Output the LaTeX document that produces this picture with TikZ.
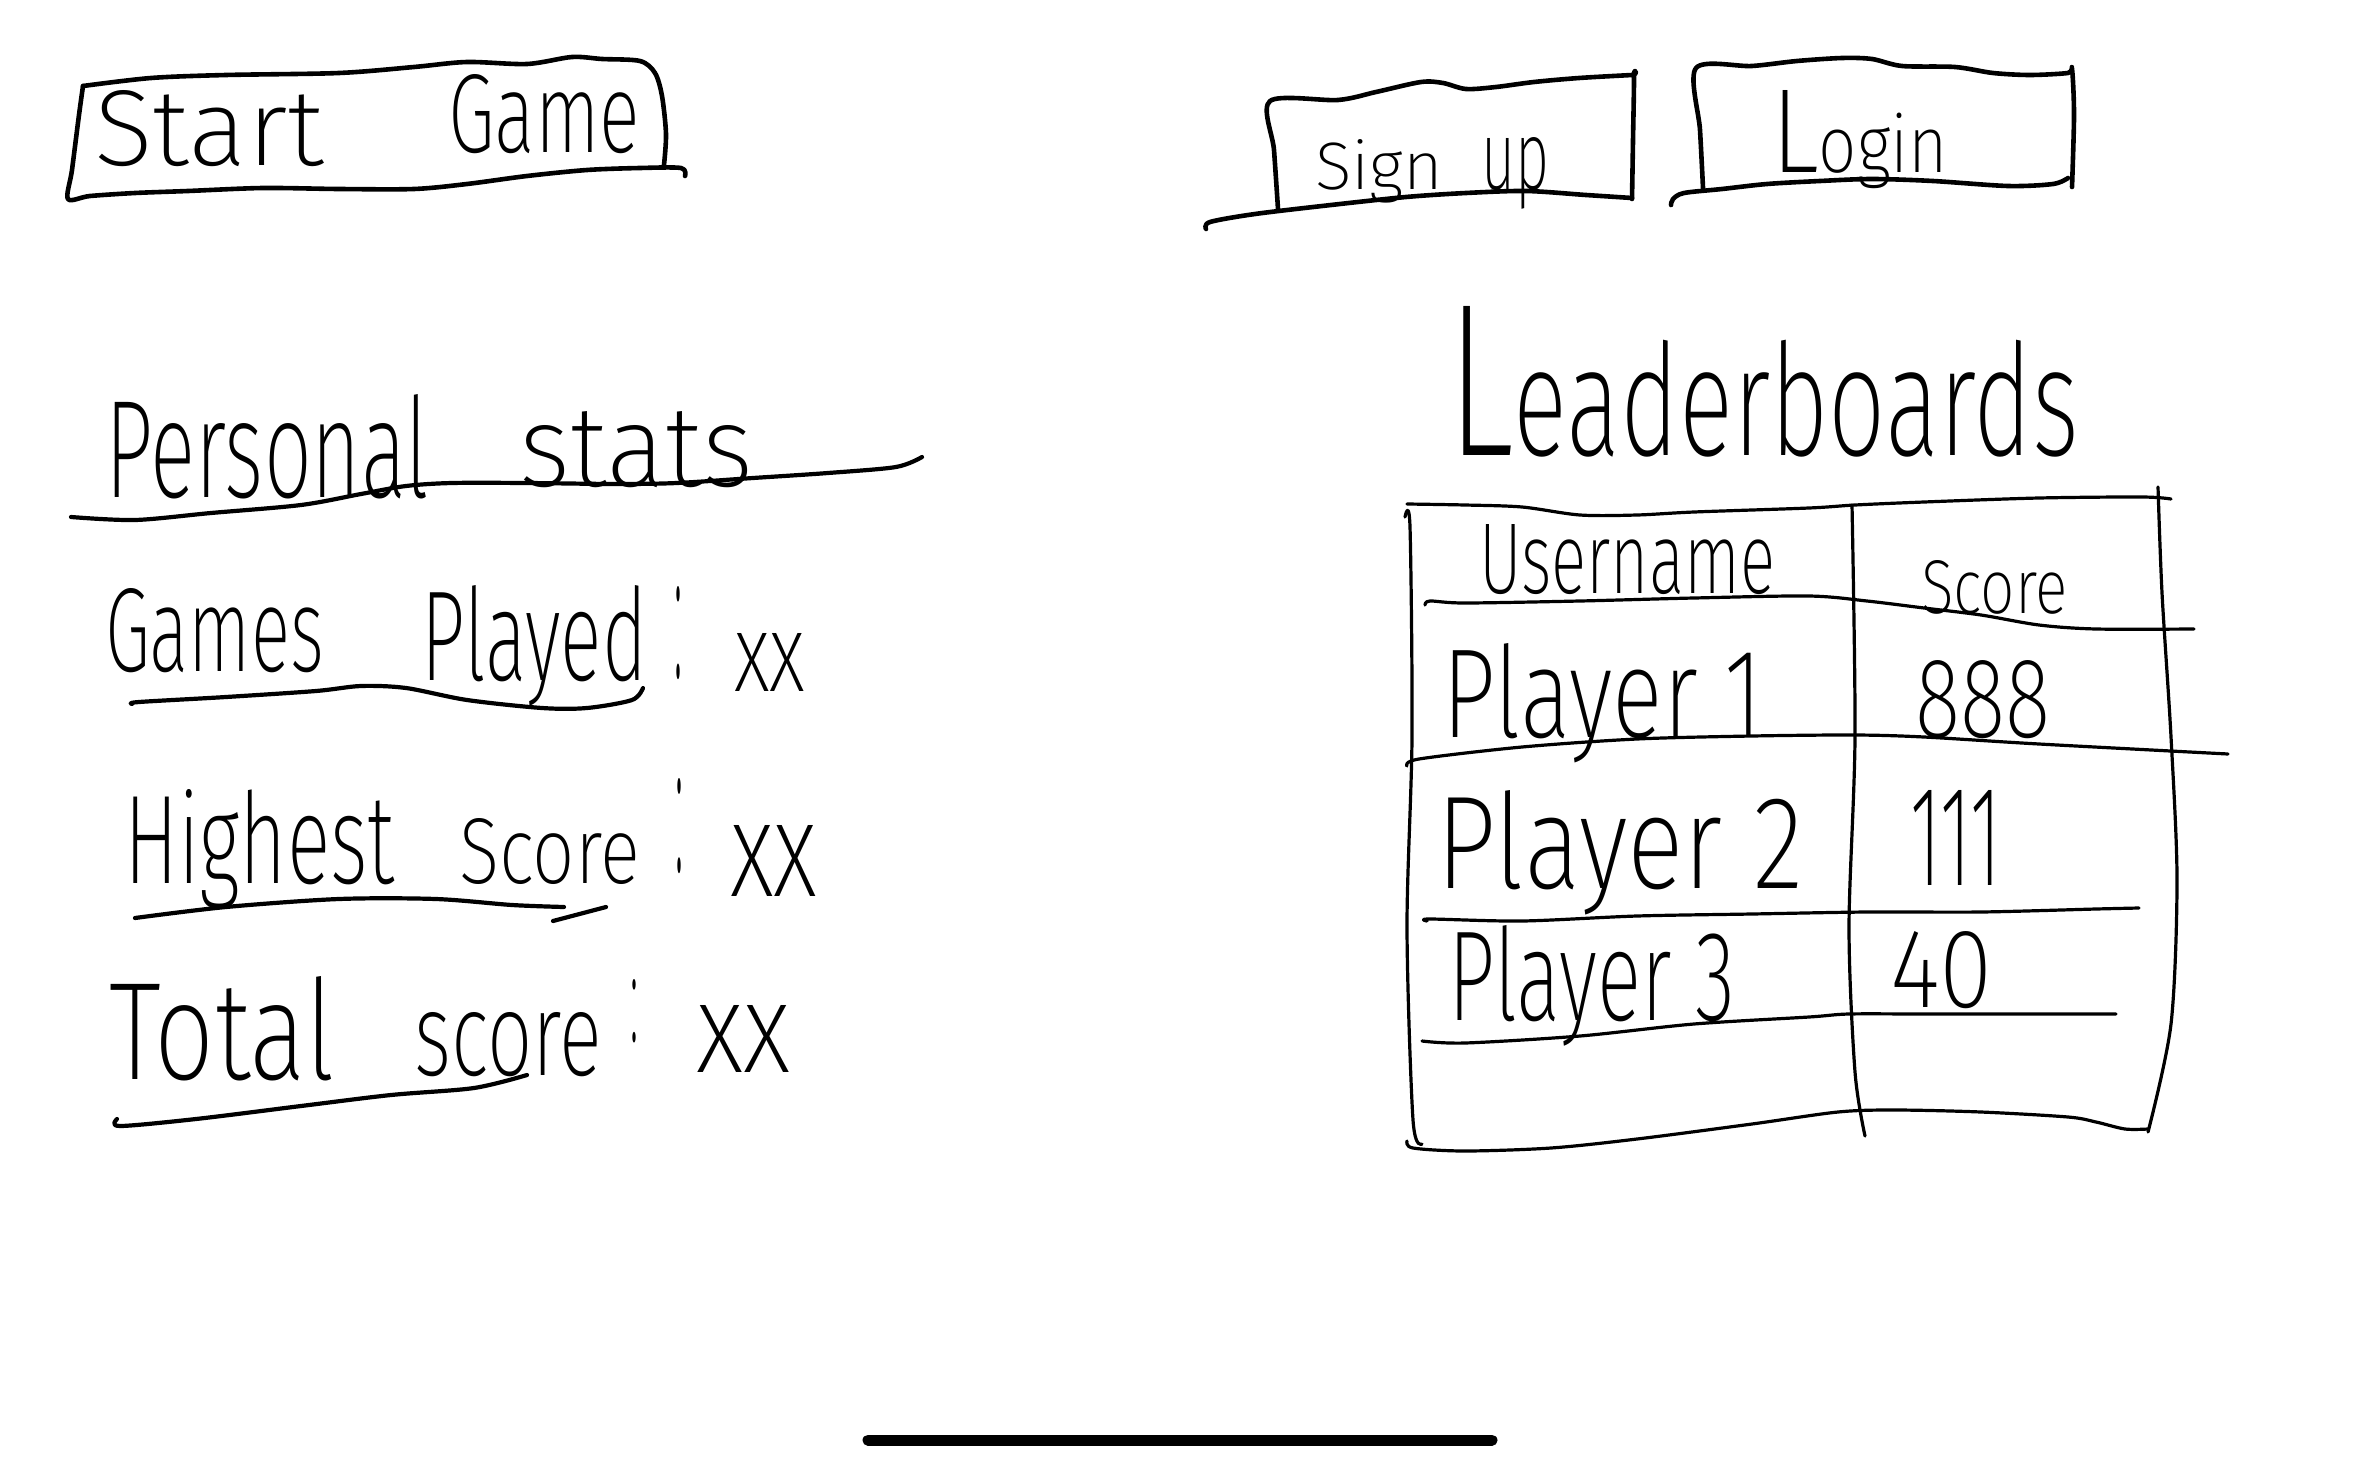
\documentclass[tikz,border=0pt]{standalone}
\usepackage{fontspec}
\usepackage{graphicx}
\IfFontExistsTF{Fira Sans ExtraLight}{\newfontfamily\hand{Fira Sans ExtraLight}}{%
  \IfFontExistsTF{Fira Sans Light}{\newfontfamily\hand{Fira Sans Light}}{\newfontfamily\hand{Fira Sans}}}
\newlength\pxu
\setlength\pxu{0.5pt}
\newcommand\hw[3]{\resizebox{#1\pxu}{#2\pxu}{\hand #3}}
\begin{document}
\begin{tikzpicture}[x=0.5pt,y=-0.5pt,
  txt/.style={inner sep=0pt, outer sep=0pt, anchor=base west},
  boxline/.style={line width=2.3pt, line cap=round, line join=round},
  uline/.style={line width=2.1pt, line cap=round, line join=round},
  tabline/.style={line width=1.6pt, line cap=round, line join=round},
  homebar/.style={line width=5.5pt, line cap=round}]
\fill[white] (0,0) rectangle (2360,1461);

% ---------- Start Game button ----------
\draw[boxline] plot[smooth,tension=0.5] coordinates {(83,86) (151,78) (226,75) (339,73) (414,67) (467,62) (527,64) (572,57) (602,59) (640,61) (655,73) (662,96) (666,134) (664,165)};
\draw[boxline] plot[smooth,tension=0.5] coordinates {(83,86) (79,115) (72,170) (68,199) (90,196) (135,193) (188,191) (263,188) (339,189) (414,189) (467,184) (527,176) (587,170) (640,168) (681,168) (685,176)};
\node[txt] (tStart) at (94,165) {\hw{230}{75}{Start}};
\node[txt] (tGame) at (448,153) {\hw{192}{78}{Game}};

% ---------- Sign up button ----------
\draw[boxline] plot[smooth,tension=0.5] coordinates {(1278,209) (1274,150) (1270,101) (1338,100) (1376,92) (1421,82) (1443,83) (1466,89) (1496,87) (1534,82) (1579,78) (1632,75) (1634,75) (1633,140) (1632,199)};
\draw[boxline] plot[smooth,tension=0.5] coordinates {(1632,198) (1586,195) (1526,191) (1466,193) (1406,197) (1331,205) (1255,214) (1210,222) (1206,229)};
\node[txt] (tSign) at (1315,189) {\hw{128}{50}{Sign}};
\node[txt] (tUp) at (1481,189) {\hw{68}{52}{up}};

% ---------- Login button ----------
\draw[boxline] plot[smooth,tension=0.5] coordinates {(1703,188) (1700,130) (1696,68) (1752,66) (1797,61) (1842,58) (1872,59) (1902,66) (1955,67) (1993,73) (2030,75) (2068,73) (2072,69) (2074,115) (2072,187)};
\draw[boxline] plot[smooth,tension=0.5] coordinates {(2068,178) (2053,184) (2008,186) (1933,181) (1872,179) (1820,181) (1767,184) (1722,189) (1684,193) (1673,199) (1671,205)};
\node[txt] (tLogin) at (1771,172) {\hw{177}{82}{\scalebox{1.5}{L}ogin}};

% ---------- Personal stats ----------
\node[txt] (tPersonal) at (105,497) {\hw{324}{103}{Personal}};
\node[txt] (tStats) at (519,486) {\hw{234}{75}{stats}};
\draw[uline] plot[smooth,tension=0.5] coordinates {(71,517) (135,520) (211,513) (301,505) (361,494) (406,486) (452,483) (527,483) (617,484) (677,483) (753,478) (828,473) (896,467) (922,457)};

% Games Played
\node[txt] (tGames) at (105,671) {\hw{219}{83}{Games}};
\node[txt] (tPlayed) at (421,680) {\hw{226}{95}{Played}};
\node[txt] (cA) at (674,677) {\hw{8}{91}{:}};
\node[txt] (xA) at (734,691) {\hw{71}{58}{xx}};
\draw[uline] plot[smooth,tension=0.5] coordinates {(132,704) (139,702) (226,697) (316,691) (361,686) (406,688) (467,700) (542,708) (587,708) (632,700) (643,688)};

% Highest Score
\node[txt] (tHighest) at (124,883) {\hw{271}{94}{Highest}};
\node[txt] (tScoreA) at (459,883) {\hw{181}{65}{Score}};
\node[txt] (cB) at (675,871) {\hw{8}{93}{:}};
\node[txt] (xB) at (730,896) {\hw{87}{71}{xx}};
\draw[uline] plot[smooth,tension=0.5] coordinates {(135,918) (226,907) (339,899) (436,899) (512,905) (564,907)};
\draw[uline] (553,921) -- (606,907);

% Total score
\node[txt] (tTotal) at (109,1079) {\hw{226}{103}{Total}};
\node[txt] (tScoreB) at (414,1075) {\hw{188}{63}{score}};
\node[txt] (cC) at (630,1041) {\hw{8}{62}{:}};
\node[txt] (xC) at (696,1072) {\hw{94}{67}{xx}};
\draw[uline] plot[smooth,tension=0.5] coordinates {(117,1119) (120,1126) (196,1119) (301,1106) (391,1095) (474,1088) (527,1075)};

% ---------- Leaderboards ----------
\node[txt] (tLeader) at (1447,455) {\hw{632}{149}{\scalebox{1.4}{L}eaderboards}};

% table outline
\draw[tabline] plot[smooth,tension=0.5] coordinates {(1407,504) (1465,505) (1522,507) (1580,515) (1637,515) (1694,512) (1809,508) (1855,505) (1924,502) (2039,498) (2142,497) (2171,499)};
\draw[tabline] plot[smooth,tension=0.5] coordinates {(1405,517) (1410,527) (1412,737) (1407,928) (1413,1120) (1422,1144)};
\draw[tabline] plot[smooth,tension=0.5] coordinates {(1407,1141) (1413,1148) (1465,1151) (1551,1148) (1637,1139) (1752,1124) (1838,1112) (1895,1110) (1981,1112) (2068,1117) (2096,1122) (2125,1129) (2148,1129)};
\draw[tabline] plot[smooth,tension=0.5] coordinates {(2158,487) (2162,593) (2171,737) (2177,880) (2171,1024) (2148,1132)};
% column divider
\draw[tabline] plot[smooth,tension=0.5] coordinates {(1852,505) (1855,737) (1849,928) (1855,1072) (1865,1136)};
% row lines
\draw[tabline] plot[smooth,tension=0.5] coordinates {(1425,605) (1430,601) (1465,603) (1580,601) (1694,598) (1809,596) (1867,601) (1924,608) (1981,615) (2039,625) (2096,629) (2194,629)};
\draw[tabline] plot[smooth,tension=0.5] coordinates {(1407,766) (1419,759) (1522,747) (1637,739) (1752,736) (1855,735) (1924,737) (2039,744) (2228,754)};
\draw[tabline] plot[smooth,tension=0.5] coordinates {(1427,921) (1430,919) (1522,921) (1637,916) (1752,914) (1867,912) (1981,912) (2096,909) (2139,908)};
\draw[tabline] plot[smooth,tension=0.5] coordinates {(1422,1041) (1465,1043) (1580,1036) (1694,1024) (1809,1017) (1849,1014) (1924,1014) (2039,1014) (2116,1014)};

% table texts
\node[txt] (hUser) at (1479,593) {\hw{296}{69}{Username}};
\node[txt] (hScore) at (1921,613) {\hw{147}{53}{Score}};
\node[txt] (p1) at (1442,737) {\hw{321}{94}{Player 1}};
\node[txt] (s1) at (1915,737) {\hw{135}{77}{888}};
\node[txt] (p2) at (1436,888) {\hw{367}{98}{Player 2}};
\node[txt] (s2) at (1910,885) {\hw{91}{95}{111}};
\node[txt] (p3) at (1448,1020) {\hw{287}{95}{Player 3}};
\node[txt] (s3) at (1890,1007) {\hw{103}{76}{40}};

% home indicator
\coordinate (hbL) at (868,1440);
\coordinate (hbR) at (1492,1440);
\draw[homebar] (hbL) -- (hbR);
\end{tikzpicture}
\end{document}
